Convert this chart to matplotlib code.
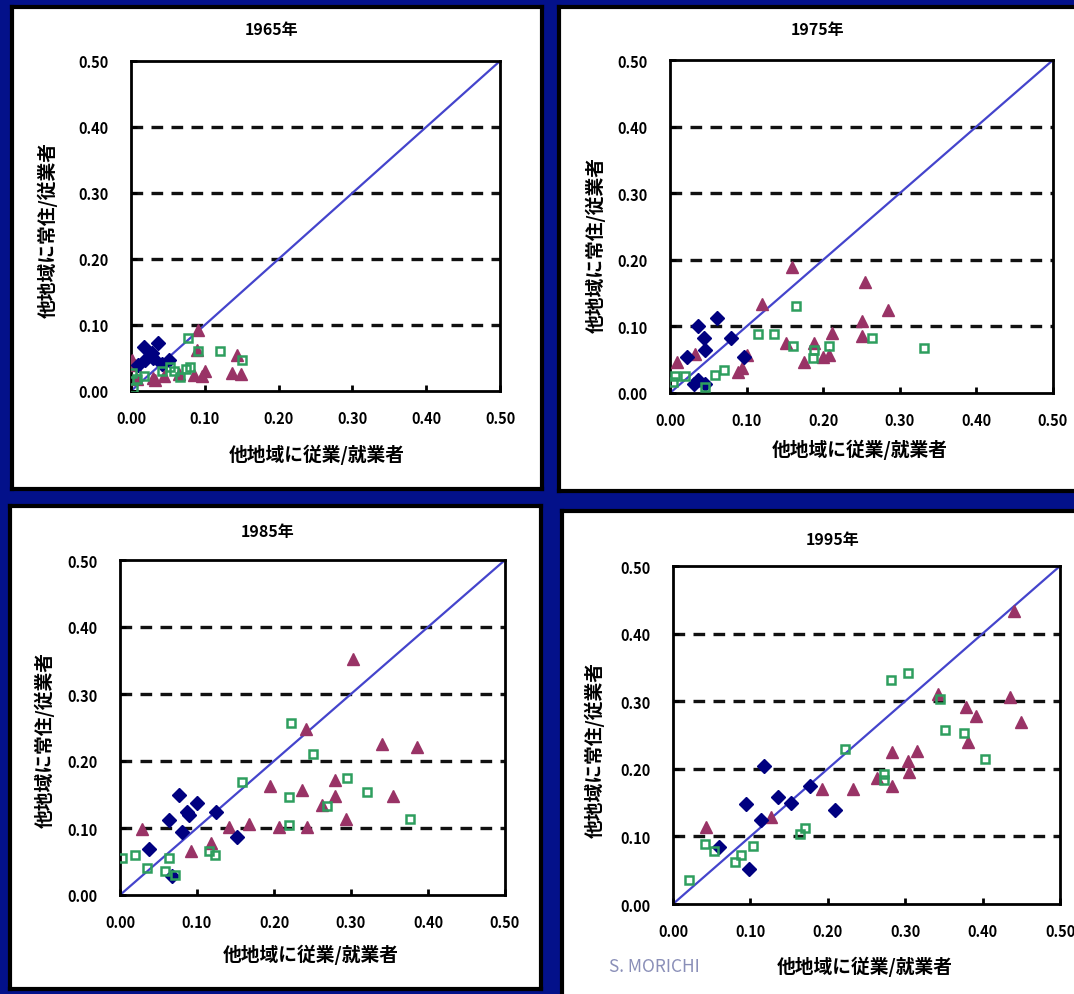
import matplotlib
matplotlib.use("Agg")
import matplotlib.pyplot as plt
import numpy as np

plt.rcParams['font.family'] = ['Noto Sans CJK JP', 'DejaVu Sans']

W, H = 1074, 995

years = ["1965年", "1975年", "1985年", "1995年"]
x_label = "他地域に従業/就業者"
y_label = "他地域に常住/従業者"
tick_vals = [0.0, 0.1, 0.2, 0.3, 0.4, 0.5]
tick_labels = ["0.00", "0.10", "0.20", "0.30", "0.40", "0.50"]
credit = "S. MORICHI"

# ---- data: (x, y) per series, per year ----
dia_1965_x = [0.017, 0.036, 0.028, 0.051, 0.042, 0.019, 0.010, 0.030]
dia_1965_y = [0.067, 0.073, 0.057, 0.047, 0.041, 0.047, 0.040, 0.050]
tri_1965_x = [0.091, 0.090, 0.096, 0.143, 0.137, 0.149, 0.065, 0.033, 0.001, 0.005, 0.008, 0.030, 0.045, 0.100, 0.085]
tri_1965_y = [0.093, 0.062, 0.023, 0.054, 0.028, 0.026, 0.026, 0.016, 0.047, 0.039, 0.018, 0.020, 0.022, 0.030, 0.025]
sq_1965_x = [0.077, 0.091, 0.121, 0.151, 0.053, 0.074, 0.080, 0.067, 0.042, 0.001, 0.008, 0.017, 0.003, 0.058]
sq_1965_y = [0.080, 0.060, 0.060, 0.047, 0.036, 0.034, 0.036, 0.021, 0.031, 0.028, 0.018, 0.023, 0.005, 0.030]

dia_1975_x = [0.061, 0.037, 0.045, 0.046, 0.080, 0.096, 0.022, 0.037, 0.046, 0.031]
dia_1975_y = [0.113, 0.100, 0.082, 0.064, 0.082, 0.054, 0.054, 0.019, 0.014, 0.014]
tri_1975_x = [0.159, 0.255, 0.120, 0.285, 0.251, 0.251, 0.211, 0.151, 0.188, 0.200, 0.175, 0.101, 0.094, 0.089, 0.033, 0.009, 0.207]
tri_1975_y = [0.189, 0.166, 0.133, 0.124, 0.108, 0.085, 0.090, 0.075, 0.075, 0.054, 0.047, 0.057, 0.037, 0.031, 0.059, 0.047, 0.057]
sq_1975_x = [0.165, 0.115, 0.136, 0.264, 0.332, 0.207, 0.160, 0.188, 0.187, 0.070, 0.059, 0.007, 0.020, 0.004, 0.046]
sq_1975_y = [0.130, 0.088, 0.088, 0.083, 0.067, 0.070, 0.070, 0.064, 0.052, 0.034, 0.027, 0.026, 0.026, 0.016, 0.009]

dia_1985_x = [0.077, 0.100, 0.087, 0.064, 0.125, 0.080, 0.152, 0.038, 0.067, 0.090]
dia_1985_y = [0.150, 0.137, 0.124, 0.112, 0.124, 0.094, 0.086, 0.068, 0.028, 0.120]
tri_1985_x = [0.302, 0.242, 0.340, 0.386, 0.195, 0.236, 0.279, 0.279, 0.262, 0.354, 0.294, 0.141, 0.167, 0.206, 0.243, 0.028, 0.118, 0.092]
tri_1985_y = [0.352, 0.248, 0.226, 0.221, 0.162, 0.157, 0.171, 0.148, 0.135, 0.148, 0.114, 0.102, 0.106, 0.101, 0.101, 0.098, 0.078, 0.066]
sq_1985_x = [0.222, 0.250, 0.158, 0.295, 0.321, 0.219, 0.269, 0.377, 0.219, 0.115, 0.123, 0.063, 0.003, 0.019, 0.035, 0.058, 0.071]
sq_1985_y = [0.257, 0.211, 0.169, 0.174, 0.153, 0.147, 0.133, 0.114, 0.105, 0.065, 0.060, 0.055, 0.055, 0.060, 0.040, 0.036, 0.030]

dia_1995_x = [0.118, 0.177, 0.136, 0.153, 0.094, 0.114, 0.209, 0.059, 0.098]
dia_1995_y = [0.204, 0.175, 0.159, 0.150, 0.148, 0.124, 0.139, 0.085, 0.052]
tri_1995_x = [0.440, 0.435, 0.449, 0.342, 0.378, 0.392, 0.381, 0.283, 0.315, 0.304, 0.305, 0.263, 0.283, 0.192, 0.232, 0.126, 0.043]
tri_1995_y = [0.434, 0.306, 0.269, 0.311, 0.291, 0.278, 0.240, 0.225, 0.226, 0.211, 0.195, 0.187, 0.174, 0.170, 0.170, 0.128, 0.114]
sq_1995_x = [0.282, 0.303, 0.345, 0.352, 0.376, 0.403, 0.222, 0.273, 0.273, 0.170, 0.164, 0.041, 0.053, 0.104, 0.088, 0.080, 0.021]
sq_1995_y = [0.332, 0.341, 0.303, 0.258, 0.253, 0.215, 0.230, 0.193, 0.183, 0.113, 0.104, 0.089, 0.079, 0.086, 0.072, 0.062, 0.035]

dia_x = [dia_1965_x, dia_1975_x, dia_1985_x, dia_1995_x]
dia_y = [dia_1965_y, dia_1975_y, dia_1985_y, dia_1995_y]
tri_x = [tri_1965_x, tri_1975_x, tri_1985_x, tri_1995_x]
tri_y = [tri_1965_y, tri_1975_y, tri_1985_y, tri_1995_y]
sq_x = [sq_1965_x, sq_1975_x, sq_1985_x, sq_1995_x]
sq_y = [sq_1965_y, sq_1975_y, sq_1985_y, sq_1995_y]

# ---- layout (pixels) ----
panels = [(12, 8, 542, 490), (559, 8, 1080, 492), (10, 507, 541, 990), (562, 512, 1080, 1000)]
axes_px = [(131, 62, 500, 392), (670, 61, 1053, 394), (120, 561, 505, 896), (673, 567, 1060, 905)]
title_px = [(272, 30), (818, 30), (268, 532), (833, 540)]
ylab_px = [(48, 230), (596, 245), (45, 740), (595, 750)]
xlab_px = [(317, 455), (860, 450), (311, 955), (865, 967)]

NAVY_BG = '#03118a'
DIA_C = '#000080'
TRI_C = '#993366'
SQ_C = '#2e9e5e'
LINE_C = '#4444cc'


def rect(x0, y0, x1, y1):
    return [x0 / W, 1 - y1 / H, (x1 - x0) / W, (y1 - y0) / H]


fig = plt.figure(figsize=(W / 100, H / 100), dpi=100, facecolor=NAVY_BG)

for i in range(4):
    pax = fig.add_axes(rect(*panels[i]), zorder=0)
    pax.set_facecolor('white')
    pax.set_xticks([])
    pax.set_yticks([])
    for s in pax.spines.values():
        s.set_color('black')
        s.set_linewidth(3)

    ax = fig.add_axes(rect(*axes_px[i]), zorder=2)
    ax.set_facecolor('none')
    ax.set_xlim(0, 0.5)
    ax.set_ylim(0, 0.5)
    for s in ax.spines.values():
        s.set_color('black')
        s.set_linewidth(2.0)
    for yv in tick_vals[1:-1]:
        ax.axhline(yv, color='#111111', lw=2.4, ls=(0, (3.5, 2.5)), zorder=1)
    ax.plot([0, 0.5], [0, 0.5], color=LINE_C, lw=1.6, zorder=2)
    ax.plot(dia_x[i], dia_y[i], ls='none', marker='D', ms=7, color=DIA_C, mec=DIA_C, zorder=4)
    ax.plot(tri_x[i], tri_y[i], ls='none', marker='^', ms=8.5, color=TRI_C, mec=TRI_C, zorder=3)
    ax.plot(sq_x[i], sq_y[i], ls='none', marker='s', ms=6, mfc='none', mec=SQ_C, mew=1.8, zorder=5)
    ax.set_xticks(tick_vals)
    ax.set_yticks(tick_vals)
    ax.set_xticklabels(tick_labels, fontsize=10.5, fontweight='bold')
    ax.set_yticklabels(tick_labels, fontsize=10.5, fontweight='bold')
    ax.tick_params(direction='in', length=4, width=2, colors='black')
    ax.tick_params(axis='x', pad=14)
    ax.tick_params(axis='y', pad=16)

    fig.text(title_px[i][0] / W, 1 - title_px[i][1] / H, years[i], ha='center', va='center',
             fontsize=11.5, fontweight='bold', color='black', zorder=5)
    fig.text(ylab_px[i][0] / W, 1 - ylab_px[i][1] / H, y_label, ha='center', va='center',
             rotation=90, fontsize=13.5, fontweight='bold', color='black', zorder=5)
    fig.text(xlab_px[i][0] / W, 1 - xlab_px[i][1] / H, x_label, ha='center', va='center',
             fontsize=13.5, fontweight='bold', color='black', zorder=5)

fig.text(654 / W, 1 - 967 / H, credit, ha='center', va='center', fontsize=12.5,
         color='#8a8fb8', zorder=5)

fig.savefig('out.png', dpi=100, facecolor=NAVY_BG)
